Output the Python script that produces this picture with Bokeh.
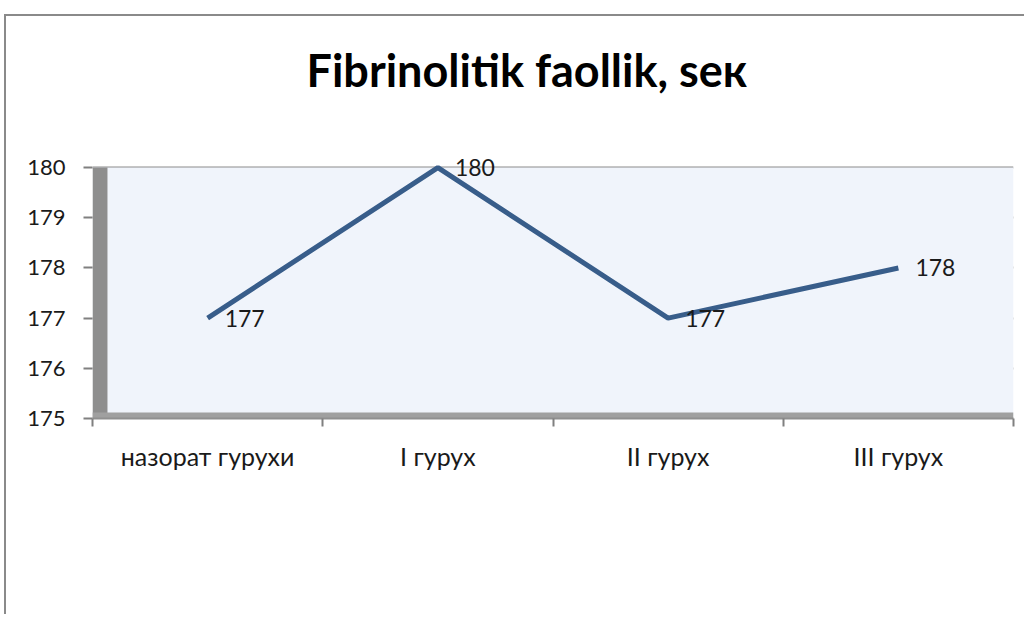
from bokeh.plotting import figure
from bokeh.models import FixedTicker, BoxAnnotation, LabelSet, ColumnDataSource, Title
from bokeh.core.properties import value
from bokeh.embed import file_html
from bokeh.resources import INLINE

title = "Fibrinolitik faollik, sек"
categories = ["назорат гурухи", "I гурух", "II гурух", "III гурух"]
values = [177, 180, 177, 178]
y_ticks = [175, 176, 177, 178, 179, 180]

FONT = "Lato"
Y_TOP = 180.4  # a little head room above the top tick so the "180" label is not clipped

xs = [i + 0.5 for i in range(len(categories))]
src = ColumnDataSource(dict(x=xs, y=values, lab=[str(v) for v in values]))

p = figure(width=1020, height=600, output_backend="svg", toolbar_location=None,
           x_range=(0, len(categories)), y_range=(y_ticks[0], Y_TOP),
           min_border_left=86, min_border_right=13, min_border_top=131, min_border_bottom=198,
           background_fill_color="white", border_fill_color="white")
p.outline_line_color = None
p.margin = (14, 0, 0, 4)
p.styles = {"border-top": "2px solid #8a8a8a", "border-left": "2px solid #8a8a8a"}

p.title.text = title
p.title.align = "left"
p.title.offset = 214
p.title.vertical_align = "bottom"
p.title.text_font = FONT
p.title.text_font_style = "bold"
p.title.text_font_size = "45px"
p.title.text_color = "black"
try:
    p.title.standoff = 0
except Exception:
    pass

# empty spacer between the title and the plot area
spacer = Title(text=" ", text_font_size="1px")
try:
    spacer.standoff = 48
except Exception:
    pass
p.add_layout(spacer, "above")

# back wall, left wall, floor (decoration)
p.add_layout(BoxAnnotation(left=0, right=len(categories), bottom=y_ticks[0], top=y_ticks[-1],
                           fill_color="#F0F4FB", fill_alpha=1, line_color=None, level="underlay"))
p.add_layout(BoxAnnotation(left=0, right=0.065, bottom=y_ticks[0], top=y_ticks[-1],
                           fill_color="#8E8E8E", fill_alpha=1, line_color=None, level="underlay"))
p.add_layout(BoxAnnotation(bottom=y_ticks[0], top=y_ticks[0] + 0.12, fill_color="#A0A0A0",
                           fill_alpha=1, line_color=None, level="underlay"))

# y axis
p.yaxis.ticker = FixedTicker(ticks=y_ticks)
p.yaxis.axis_line_color = None
p.yaxis.major_tick_line_color = "#808080"
p.yaxis.major_tick_line_width = 2
p.yaxis.major_tick_out = 9
p.yaxis.major_tick_in = 0
p.yaxis.minor_tick_line_color = None
p.yaxis.major_label_standoff = 18
p.yaxis.major_label_text_font = FONT
p.yaxis.major_label_text_font_size = "22px"
p.yaxis.major_label_text_color = "#1a1a1a"

# x axis
p.xaxis.ticker = FixedTicker(ticks=xs, minor_ticks=list(range(len(categories) + 1)))
p.xaxis.major_label_overrides = {x: c for x, c in zip(xs, categories)}
p.xaxis.axis_line_color = "#909090"
p.xaxis.axis_line_width = 2
p.xaxis.major_tick_line_color = None
p.xaxis.minor_tick_line_color = "#808080"
p.xaxis.minor_tick_line_width = 2
p.xaxis.minor_tick_out = 8
p.xaxis.minor_tick_in = 0
p.xaxis.major_label_standoff = 14
p.xaxis.major_label_text_font = FONT
p.xaxis.major_label_text_font_size = "25px"
p.xaxis.major_label_text_color = "#1a1a1a"

p.xgrid.grid_line_color = None
p.ygrid.ticker = FixedTicker(ticks=y_ticks)
p.ygrid.grid_line_color = "#8C8C8C"
p.ygrid.grid_line_width = 2

p.line("x", "y", source=src, line_color="#385D8A", line_width=5)
p.add_layout(LabelSet(x="x", y="y", text="lab", source=src, x_offset=17,
                      text_baseline="middle", text_align="left", text_font_size="23px",
                      text_color="#1a1a1a", text_font=value(FONT)))

open("out.html", "w").write(file_html(p, INLINE))
